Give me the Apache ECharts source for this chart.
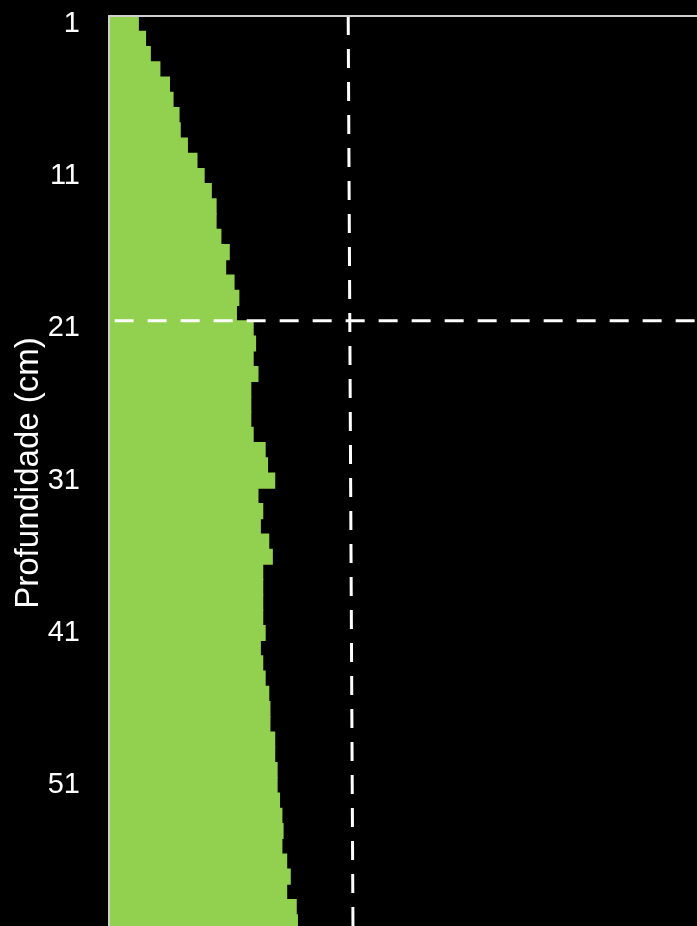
<!DOCTYPE html>
<html>
<head>
<meta charset="utf-8">
<script src="https://cdn.jsdelivr.net/npm/echarts@6/dist/echarts.min.js"></script>
<style>
  html, body { margin: 0; padding: 0; background: #000; }
  #chart { width: 697px; height: 926px; }
</style>
</head>
<body>
<div id="chart"></div>
<script>
// Profundidade (cm), 1 a 60
const depths = Array.from({ length: 60 }, (_, i) => String(i + 1));

// Valor medido em cada profundidade
const values = [
  0.25, 0.31, 0.35, 0.43, 0.51, 0.54, 0.59, 0.60, 0.66, 0.74,
  0.80, 0.86, 0.90, 0.90, 0.94, 1.01, 0.98, 1.05, 1.09, 1.07,
  1.21, 1.23, 1.21, 1.25, 1.19, 1.19, 1.19, 1.21, 1.31, 1.33,
  1.39, 1.25, 1.29, 1.27, 1.34, 1.37, 1.29, 1.29, 1.29, 1.29,
  1.31, 1.27, 1.29, 1.31, 1.34, 1.35, 1.35, 1.39, 1.39, 1.41,
  1.41, 1.43, 1.45, 1.46, 1.45, 1.49, 1.52, 1.49, 1.57, 1.58
];

// Linha de referência vertical (valor crítico), do topo ao fundo do perfil
const criticalLine = [[2.0, 0], [2.04, 60]];
// Linha de referência horizontal na profundidade de 20 cm
const layerLine = [[-0.12, 20], [5, 20]];

const chart = echarts.init(document.getElementById('chart'));
chart.setOption({
  backgroundColor: '#000000',
  animation: false,
  grid: {
    left: 109, right: -10, top: 16, bottom: -4,
    containLabel: false,
    outerBoundsMode: 'none'
  },
  xAxis: {
    type: 'value',
    position: 'top',
    min: 0,
    max: 5,
    axisLine: { show: true, lineStyle: { color: '#d0d0d0', width: 2 } },
    axisTick: { show: false },
    axisLabel: { show: false },
    splitLine: { show: false },
    z: 5
  },
  yAxis: [
    {
      type: 'category',
      data: depths,
      inverse: true,
      name: 'Profundidade (cm)',
      nameLocation: 'middle',
      nameRotate: 90,
      nameGap: 64,
      nameMoveOverlap: false,
      nameTextStyle: { color: '#ffffff', fontSize: 33, fontFamily: 'Liberation Sans, Arial, sans-serif' },
      axisLine: { show: true, lineStyle: { color: '#d0d0d0', width: 2 } },
      axisTick: { show: false },
      axisLabel: {
        interval: 9,
        color: '#ffffff',
        fontSize: 29,
        margin: 29,
        fontFamily: 'Liberation Sans, Arial, sans-serif'
      },
      splitLine: { show: false },
      z: 5
    },
    {
      type: 'value',
      inverse: true,
      min: 0,
      max: 60,
      show: false
    }
  ],
  series: [
    {
      type: 'bar',
      data: values,
      barWidth: '106%',
      itemStyle: { color: '#92d050' },
      silent: true
    },
    {
      type: 'line',
      yAxisIndex: 1,
      data: criticalLine,
      symbol: 'none',
      clip: false,
      lineStyle: { color: '#ffffff', width: 3, type: [19, 14] },
      silent: true,
      z: 4
    },
    {
      type: 'line',
      yAxisIndex: 1,
      data: layerLine,
      symbol: 'none',
      clip: false,
      lineStyle: { color: '#ffffff', width: 3, type: [19, 14], dashOffset: 13 },
      silent: true,
      z: 4
    }
  ]
});
</script>
</body>
</html>
